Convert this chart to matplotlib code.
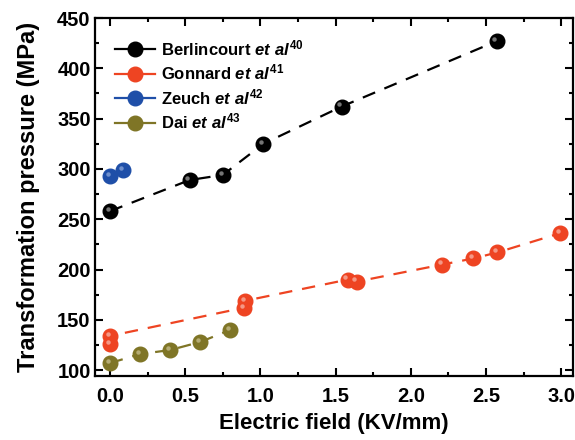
import matplotlib
matplotlib.use("Agg")
import matplotlib.pyplot as plt
from matplotlib.ticker import MultipleLocator
from matplotlib.transforms import offset_copy

plt.rcParams["font.family"] = ["Liberation Sans", "DejaVu Sans"]
plt.rcParams["font.weight"] = "bold"
plt.rcParams["mathtext.fontset"] = "custom"
plt.rcParams["mathtext.rm"] = "Liberation Sans:bold"
plt.rcParams["mathtext.it"] = "Liberation Sans:bold:italic"
plt.rcParams["mathtext.bf"] = "Liberation Sans:bold"

# 資料
berl_x = [0.0, 0.53, 0.75, 1.02, 1.54, 2.57]
berl_y = [258, 289, 294, 325, 362, 427]

gonn_x = [0.0, 0.0, 0.89, 0.9, 1.58, 1.64, 2.21, 2.415, 2.575, 2.99]
gonn_y = [126, 134, 162, 169, 190, 188, 205, 211, 217, 236]

zeuch_x = [0.0, 0.09]
zeuch_y = [293, 299]

dai_x = [0.0, 0.2, 0.4, 0.6, 0.8]
dai_y = [107, 116, 120, 128, 140]

series = [
    (berl_x, berl_y, "#000000", "#8a8a8a", r"Berlincourt $\mathit{et\ al}^{\mathrm{40}}$", True),
    (gonn_x, gonn_y, "#EE4422", "#f6a898", r"Gonnard $\mathit{et\ al}^{\mathrm{41}}$", True),
    (zeuch_x, zeuch_y, "#1F4FA8", "#7f9cd4", r"Zeuch $\mathit{et\ al}^{\mathrm{42}}$", False),
    (dai_x, dai_y, "#7F7526", "#bfb782", r"Dai $\mathit{et\ al}^{\mathrm{43}}$", True),
]

fig = plt.figure(figsize=(5.75, 4.4), dpi=100)
ax = fig.add_axes([0.165, 0.145, 0.832, 0.814])

handles = []
for xs, ys, c, hl, label, dashed in series:
    ls = (0, (6, 4.5)) if dashed else "none"
    ax.plot(xs, ys, linestyle=ls, color=c, linewidth=1.6, zorder=2)
    ax.plot(xs, ys, linestyle="none", marker="o", markersize=10.5,
            markerfacecolor=c, markeredgecolor=c, zorder=3)
    # 球體高光
    tr = offset_copy(ax.transData, fig=fig, x=-1.6, y=1.6, units="points")
    ax.plot(xs, ys, linestyle="none", marker="o", markersize=3.2,
            markerfacecolor=hl, markeredgecolor="none", alpha=0.85,
            transform=tr, zorder=4)
    h, = ax.plot([], [], linestyle="-", color=c, linewidth=1.6, marker="o",
                 markersize=10.5, markerfacecolor=c, markeredgecolor=c, label=label)
    handles.append(h)

ax.set_xlim(-0.1, 3.08)
ax.set_ylim(94, 450)
ax.xaxis.set_major_locator(MultipleLocator(0.5))
ax.xaxis.set_minor_locator(MultipleLocator(0.25))
ax.yaxis.set_major_locator(MultipleLocator(50))
ax.yaxis.set_minor_locator(MultipleLocator(25))
ax.xaxis.set_major_formatter(matplotlib.ticker.FormatStrFormatter("%.1f"))

ax.tick_params(which="both", direction="in", top=True, right=True, width=1.5,
               labelsize=14.5)
ax.tick_params(which="major", length=6)
ax.tick_params(which="minor", length=3)
ax.tick_params(axis="x", pad=8)
ax.tick_params(axis="y", pad=3)
for s in ax.spines.values():
    s.set_linewidth(1.6)

ax.set_xlabel("Electric field (KV/mm)", fontsize=16, fontweight="bold", labelpad=5)
ax.set_ylabel("Transformation pressure (MPa)", fontsize=17, fontweight="bold", labelpad=12)

ax.legend(handles=handles, loc="upper left", frameon=False, fontsize=12,
          handlelength=2.4, handletextpad=0.35, labelspacing=0.28,
          borderaxespad=0.7, borderpad=0.5)

fig.savefig("out.png", dpi=100)
plt.close(fig)
